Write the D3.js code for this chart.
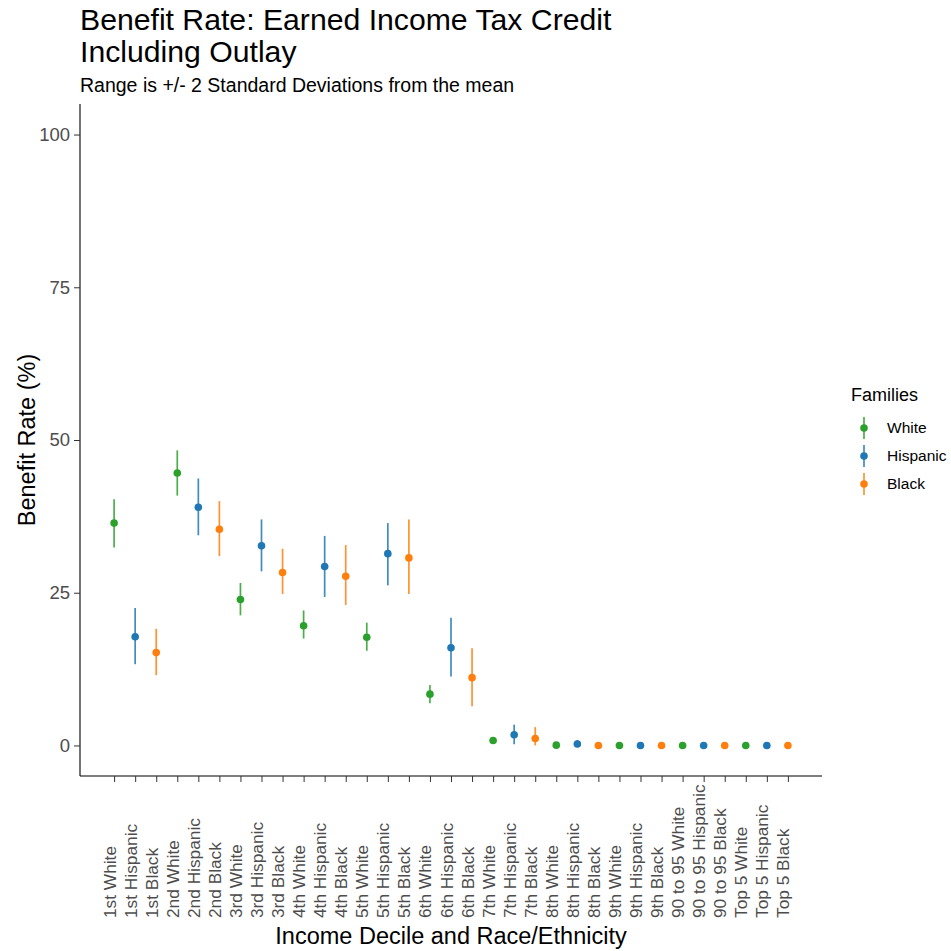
<!DOCTYPE html>
<html>
<head>
<meta charset="utf-8">
<script src="https://cdn.jsdelivr.net/npm/d3@7"></script>
<style>
  html, body { margin: 0; padding: 0; background: #fff; }
  svg text { font-family: "Liberation Sans", Arial, sans-serif; }
</style>
</head>
<body>
<svg id="chart" width="951" height="951"></svg>
<script>
// Income decile / group labels along the x axis
const categories = [
  "1st White", "1st Hispanic", "1st Black",
  "2nd White", "2nd Hispanic", "2nd Black",
  "3rd White", "3rd Hispanic", "3rd Black",
  "4th White", "4th Hispanic", "4th Black",
  "5th White", "5th Hispanic", "5th Black",
  "6th White", "6th Hispanic", "6th Black",
  "7th White", "7th Hispanic", "7th Black",
  "8th White", "8th Hispanic", "8th Black",
  "9th White", "9th Hispanic", "9th Black",
  "90 to 95 White", "90 to 95 Hispanic", "90 to 95 Black",
  "Top 5 White", "Top 5 Hispanic", "Top 5 Black"
];
const families = ["White", "Hispanic", "Black"];
const familyColors = ["#2ca02c", "#1f77b4", "#ff7f0e"];

// Mean benefit rate (%) and the +/- 2 SD range for each category
const meanRate = [
  36.4, 17.8, 15.2,
  44.6, 39.0, 35.4,
  23.9, 32.7, 28.3,
  19.6, 29.3, 27.7,
  17.7, 31.4, 30.7,
  8.4, 16.0, 11.1,
  0.8, 1.75, 1.15,
  0.05, 0.25, 0.0,
  0.0, 0.0, 0.0,
  0.0, 0.0, 0.0,
  0.0, 0.0, 0.0
];
const lowerRate = [
  32.4, 13.3, 11.5,
  40.9, 34.4, 31.0,
  21.3, 28.5, 24.8,
  17.5, 24.3, 23.0,
  15.5, 26.2, 24.8,
  6.9, 11.3, 6.4,
  0.5, 0.2, 0.0,
  0.0, -0.2, 0.0,
  0.0, 0.0, 0.0,
  0.0, 0.0, 0.0,
  0.0, 0.0, 0.0
];
const upperRate = [
  40.3, 22.5, 19.1,
  48.3, 43.7, 40.0,
  26.6, 37.0, 32.2,
  22.1, 34.3, 32.8,
  20.1, 36.4, 37.0,
  9.9, 20.9, 15.9,
  1.1, 3.4, 3.0,
  0.1, 0.9, 0.0,
  0.0, 0.0, 0.0,
  0.0, 0.0, 0.0,
  0.0, 0.0, 0.0
];
const yTicks = [0, 25, 50, 75, 100];

const rows = categories.map((c, i) => ({
  label: c,
  family: families[i % 3],
  mean: meanRate[i],
  lo: lowerRate[i],
  hi: upperRate[i]
}));

const svg = d3.select("#chart");
const panel = { left: 80, right: 822, top: 104, bottom: 776 };

const x = d3.scalePoint().domain(categories).range([panel.left, panel.right]).padding(1.62);
const y = d3.scaleLinear().domain([-5, 105]).range([panel.bottom, panel.top]);
const color = d3.scaleOrdinal().domain(families).range(familyColors);

// Titles
const title = svg.append("text").attr("x", 80).attr("y", 30)
  .attr("font-size", 30.2).attr("fill", "#000");
title.append("tspan").attr("x", 80).text("Benefit Rate: Earned Income Tax Credit");
title.append("tspan").attr("x", 80).attr("dy", 32).text("Including Outlay");
svg.append("text").attr("x", 80).attr("y", 92).attr("font-size", 19.5)
  .attr("fill", "#000").text("Range is +/- 2 Standard Deviations from the mean");

// Y axis
const yAxis = svg.append("g").attr("transform", `translate(${panel.left},0)`)
  .call(d3.axisLeft(y).tickValues(yTicks).tickSize(6).tickPadding(4));
yAxis.select(".domain").attr("d", `M0,${panel.top}V${panel.bottom}`).attr("stroke", "#000").attr("stroke-width", 1.1);
yAxis.selectAll(".tick line").attr("stroke", "#333");
yAxis.selectAll(".tick text").attr("font-size", 18.5).attr("fill", "#4d4d4d")
  .attr("font-family", "Liberation Sans, Arial, sans-serif");

// X axis
const xAxis = svg.append("g").attr("transform", `translate(0,${panel.bottom})`)
  .call(d3.axisBottom(x).tickSize(6));
xAxis.select(".domain").attr("d", `M${panel.left},0H${panel.right}`).attr("stroke", "#000").attr("stroke-width", 1.1);
xAxis.selectAll(".tick line").attr("stroke", "#333");
xAxis.selectAll(".tick text")
  .attr("font-size", 17.3).attr("fill", "#4d4d4d")
  .attr("font-family", "Liberation Sans, Arial, sans-serif")
  .attr("text-anchor", "start")
  .attr("dy", null)
  .attr("y", 0)
  .attr("transform", "translate(1,142) rotate(-90)");

// Axis titles
svg.append("text").attr("x", (panel.left + panel.right) / 2).attr("y", 944)
  .attr("text-anchor", "middle").attr("font-size", 23.5).attr("fill", "#000")
  .text("Income Decile and Race/Ethnicity");
svg.append("text")
  .attr("transform", `translate(35,${(panel.top + panel.bottom) / 2}) rotate(-90)`)
  .attr("text-anchor", "middle").attr("font-size", 23.5).attr("fill", "#000")
  .text("Benefit Rate (%)");

// Point ranges
const marks = svg.append("g");
marks.selectAll("line.range").data(rows).join("line")
  .attr("class", "range")
  .attr("x1", d => x(d.label)).attr("x2", d => x(d.label))
  .attr("y1", d => y(d.lo)).attr("y2", d => y(d.hi))
  .attr("stroke", d => color(d.family)).attr("stroke-width", 1.7)
  .attr("stroke-opacity", 0.85);
marks.selectAll("circle").data(rows).join("circle")
  .attr("cx", d => x(d.label)).attr("cy", d => y(d.mean))
  .attr("r", 3.8).attr("fill", d => color(d.family));

// Legend
const legend = svg.append("g");
legend.append("text").attr("x", 851).attr("y", 401).attr("font-size", 18)
  .attr("fill", "#000").text("Families");
const items = legend.selectAll("g.item").data(families).join("g")
  .attr("class", "item")
  .attr("transform", (d, i) => `translate(0,${428 + i * 28})`);
items.append("line").attr("x1", 864).attr("x2", 864).attr("y1", -11).attr("y2", 11)
  .attr("stroke", d => color(d)).attr("stroke-width", 1.7).attr("stroke-opacity", 0.85);
items.append("circle").attr("cx", 864).attr("cy", 0).attr("r", 3.8).attr("fill", d => color(d));
items.append("text").attr("x", 887).attr("y", 0).attr("dy", "0.35em")
  .attr("font-size", 15.5).attr("fill", "#000").text(d => d);
</script>
</body>
</html>
